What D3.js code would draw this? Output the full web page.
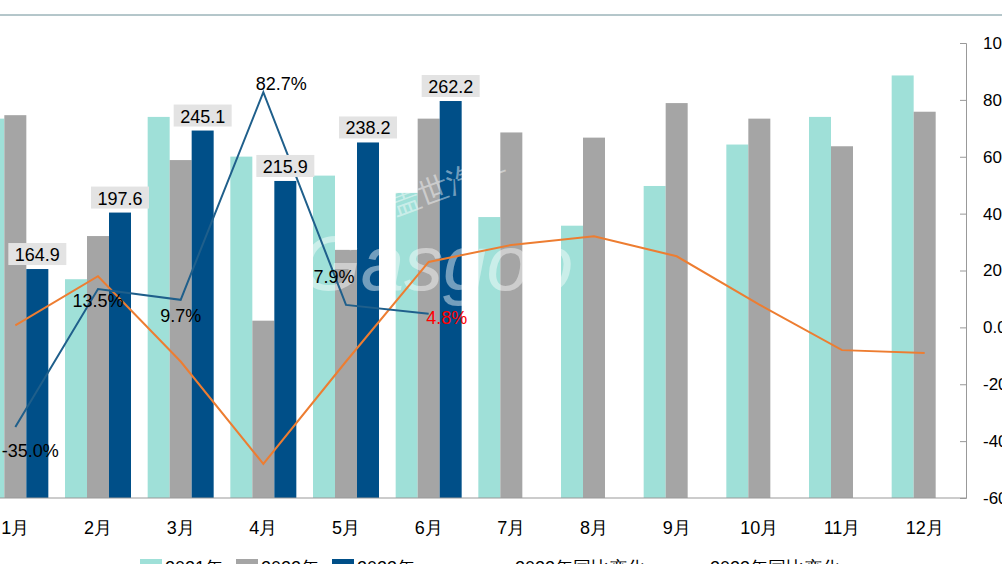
<!DOCTYPE html>
<html><head><meta charset="utf-8">
<script src="https://cdn.jsdelivr.net/npm/d3@7"></script>
<style>body{margin:0;background:#fff;overflow:hidden}text{font-family:"Liberation Sans",Arial,sans-serif}</style>
</head><body><svg id="c" width="1002" height="564"></svg>
<script>
var months = ['1月','2月','3月','4月','5月','6月','7月','8月','9月','10月','11月','12月'];
var sales2021 = [252,159,253,230,219,209,195,190,213,237,253,277];
var sales2022 = [254,184,228,135,176,252,244,241,261,252,236,256];
var sales2023 = [164.9,197.6,245.1,215.9,238.2,262.2];
var yoy2022 = [0.7,18,-12,-48,-12,23,29,32,25,8,-8,-9];
var yoy2023 = [-35.0,13.5,9.7,82.7,7.9,4.8];
var pctTicks = [100,80,60,40,20,0,-20,-40,-60];

var svg = d3.select('#c');
var x = d3.scaleBand().domain(months).range([-26, 966]);
var yL = d3.scaleLinear().domain([32.3, 295.8]).range([498, 43]);
var yR = d3.scaleLinear().domain([-60, 100]).range([498, 43]);
var bw = 22;

svg.append('line').attr('x1',0).attr('x2',1002).attr('y1',15).attr('y2',15).attr('stroke','#6b8e96');

var series = [{d:sales2021,c:'#9fe0d8',o:-bw*1.5},{d:sales2022,c:'#a5a5a5',o:-bw*0.5},{d:sales2023,c:'#004f88',o:bw*0.5}];
series.forEach(function(s){
  svg.append('g').selectAll('rect').data(s.d).enter().append('rect')
    .attr('x',function(d,i){return x(months[i])+x.bandwidth()/2+s.o;})
    .attr('width',bw)
    .attr('y',function(d){return yL(d);})
    .attr('height',function(d){return 498-yL(d);})
    .attr('fill',s.c);
});

svg.append('line').attr('x1',0).attr('x2',966).attr('y1',498).attr('y2',498).attr('stroke','#999');
var ax = svg.append('g').attr('transform','translate(966,0)')
  .call(d3.axisLeft(yR).tickValues(pctTicks).tickSize(6).tickFormat(function(d){return d.toFixed(1)+'%';}));
ax.select('.domain').attr('stroke','#999');
ax.selectAll('.tick line').attr('stroke','#999');
ax.selectAll('.tick text').attr('x',17).attr('text-anchor','start').attr('font-size',17).attr('fill','#000');

// watermark
svg.append('text').attr('x',300).attr('y',290).attr('font-size',78).attr('font-style','italic')
  .attr('fill','#fff').attr('fill-opacity',0.45).text('Gasgoo');
svg.append('text').attr('x',395).attr('y',215).attr('font-size',30)
  .attr('fill','#fff').attr('fill-opacity',0.45).attr('transform','rotate(-20,395,215)').text('盖世汽车');

var cx = function(i){return x(months[i])+x.bandwidth()/2;};
var line = d3.line().x(function(d,i){return cx(i);});
svg.append('path').datum(yoy2022).attr('fill','none').attr('stroke','#ed7d31').attr('stroke-width',2)
  .attr('d',line.y(function(d){return yR(d);}));
svg.append('path').datum(yoy2023).attr('fill','none').attr('stroke','#1f5f8b').attr('stroke-width',2)
  .attr('d',line.y(function(d){return yR(d);}));

sales2023.forEach(function(v,i){
  var tx = cx(i)+bw, ty = yL(v)-10;
  svg.append('rect').attr('x',tx-29).attr('y',ty-16).attr('width',58).attr('height',22).attr('fill','#e3e3e3');
  svg.append('text').attr('x',tx).attr('y',ty+2).attr('text-anchor','middle').attr('font-size',18).text(v.toFixed(1));
});
var lblOff = [[15,30],[0,18],[0,22],[18,-2],[-12,-22],[18,10]];
yoy2023.forEach(function(v,i){
  svg.append('text').attr('x',cx(i)+lblOff[i][0]).attr('y',yR(v)+lblOff[i][1])
    .attr('text-anchor','middle').attr('font-size',18).attr('fill',i===5?'#ff0000':'#000')
    .text(v.toFixed(1)+'%');
});

svg.append('g').selectAll('text').data(months).enter().append('text')
  .attr('x',function(d,i){return cx(i);}).attr('y',534).attr('text-anchor','middle').attr('font-size',18).text(function(d){return d;});

var leg = [{t:'2021年',c:'#9fe0d8',x:140},{t:'2022年',c:'#a5a5a5',x:236},{t:'2023年',c:'#004f88',x:332}];
leg.forEach(function(l){
  svg.append('rect').attr('x',l.x).attr('y',559).attr('width',22).attr('height',10).attr('fill',l.c);
  svg.append('text').attr('x',l.x+25).attr('y',574).attr('font-size',18).text(l.t);
});
[{t:'2022年同比变化',c:'#ed7d31',x:465},{t:'2023年同比变化',c:'#1f5f8b',x:660}].forEach(function(l){
  svg.append('line').attr('x1',l.x).attr('x2',l.x+40).attr('y1',566).attr('y2',566).attr('stroke',l.c).attr('stroke-width',2);
  svg.append('text').attr('x',l.x+50).attr('y',574).attr('font-size',18).text(l.t);
});
</script></body></html>
